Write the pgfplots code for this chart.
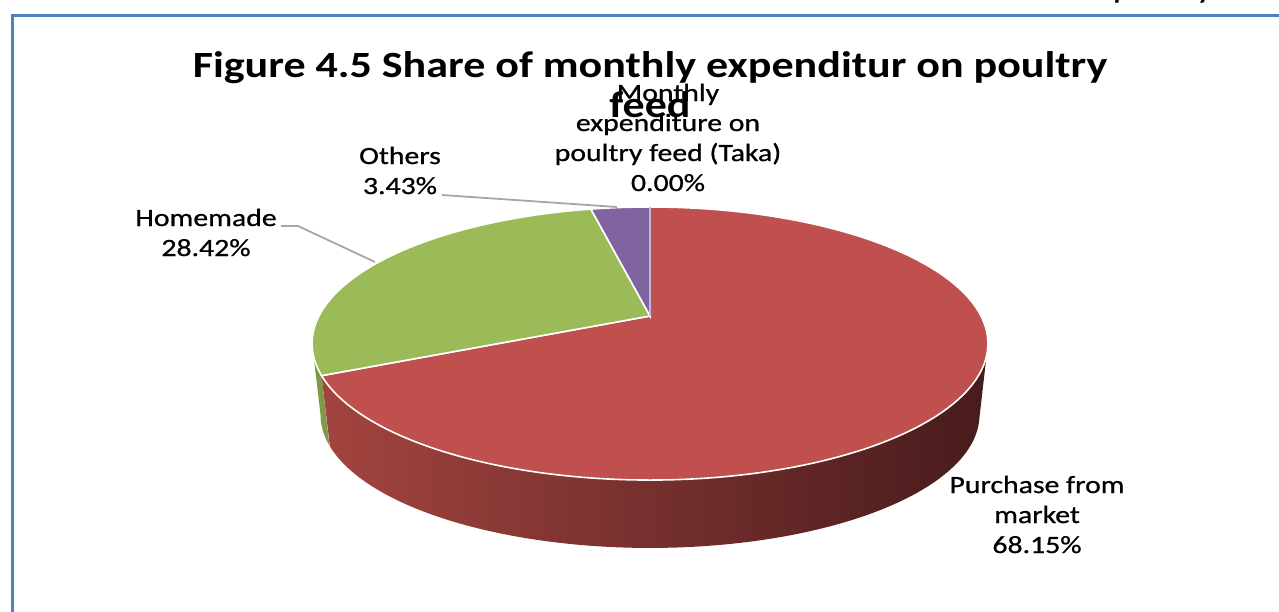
\documentclass[border=0pt]{standalone}
\usepackage{fontspec}
\setmainfont{Carlito}
\newfontfamily\lblfont{Carlito}[FakeStretch=1.2,FakeBold=0.8]
\newfontfamily\ttlfont{Carlito}[FakeStretch=1.19]
\usepackage{pgfplots}
\usepackage{pgfplotstable}
\pgfplotsset{compat=1.18}
\definecolor{PieRed}{HTML}{C0504D}
\definecolor{PieGreen}{HTML}{9BBB59}
\definecolor{PiePurple}{HTML}{8064A2}
\definecolor{WallGreen}{HTML}{7E9A46}
\definecolor{WallL}{HTML}{A3443F}
\definecolor{WallM}{HTML}{6A2A29}
\definecolor{WallR}{HTML}{471B1C}
\definecolor{ZeroLine}{HTML}{C4B8D6}
\definecolor{LeadGray}{HTML}{A6A6A6}
\definecolor{FrameBlue}{HTML}{4F81BD}

% shares in percent, in Excel's clockwise order from 12 o'clock
\pgfplotstableread{
label value
Monthly 0.00
Purchase 68.15
Homemade 28.42
Others 3.43
}\piedata

\begin{document}
\begin{tikzpicture}
\pgfplotstablegetelem{1}{value}\of\piedata\pgfmathsetmacro\vR{\pgfplotsretval}
\pgfplotstablegetelem{2}{value}\of\piedata\pgfmathsetmacro\vG{\pgfplotsretval}
\pgfplotstablegetelem{3}{value}\of\piedata\pgfmathsetmacro\vO{\pgfplotsretval}
\pgfmathsetmacro\aR{90-3.6*\vR}
\pgfmathsetmacro\aG{\aR-3.6*\vG}
\pgfmathsetmacro\aO{\aG-3.6*\vO}
\begin{axis}[
  name=ax,
  scale only axis,width=639.5pt,height=305.5pt,
  xmin=0,xmax=1279,ymin=0,ymax=611,y dir=reverse,
  xtick=\empty,ytick=\empty,
  hide axis,clip=true,clip mode=global,
  declare function={
    pw(\t)=1+0.2015*sin(\t);
    px(\t,\k)=650+\k*331*cos(\t)/pw(\t);
    py(\t,\k,\d)=316+\d-\k*131*sin(\t)/pw(\t);
    wt(\s,\a,\b)=(\s<1.0001) ? (\a+\s*(\b-\a)) : (\b-(\s-1)*(\b-\a));
    wk(\s)=(\s<1.0001) ? 1 : 0.975;
    wd(\s)=(\s<1.0001) ? 0 : 72;
  },
]
% side walls
\addplot[draw=none,fill=WallGreen,domain=0:2,samples=101,variable=\s]
  ({px(wt(\s,-168.37,\aR),wk(\s))},{py(wt(\s,-168.37,\aR),wk(\s),wd(\s))}) -- cycle;
\addplot[draw=none,left color=WallL,middle color=WallM,right color=WallR,domain=0:2,samples=201,variable=\s]
  ({px(wt(\s,\aR,-11.63),wk(\s))},{py(wt(\s,\aR,-11.63),wk(\s),wd(\s))}) -- cycle;
% top face
\addplot[draw=white,line width=0.8pt,fill=PieRed,domain=\aR:90,samples=200,variable=\t]
  ({px(\t,1)},{py(\t,1,0)}) -- (axis cs:650,316) -- cycle;
\addplot[draw=white,line width=0.8pt,fill=PieGreen,domain=\aG:\aR,samples=90,variable=\t]
  ({px(\t,1)},{py(\t,1,0)}) -- (axis cs:650,316) -- cycle;
\addplot[draw=white,line width=0.8pt,fill=PiePurple,domain=\aO:\aG,samples=20,variable=\t]
  ({px(\t,1)},{py(\t,1,0)}) -- (axis cs:650,316) -- cycle;
\addplot[draw=ZeroLine,line width=0.8pt,domain=0:1,samples=2,variable=\s]
  ({650+\s*(px(90,1)-650)},{316+\s*(py(90,1,0)-316)});
% leader lines
\draw[LeadGray,line width=0.9pt] (axis cs:281,226) -- (axis cs:298,226) -- (axis cs:375,262);
\draw[LeadGray,line width=0.9pt] (axis cs:442,195) -- (axis cs:617,207);
% frame and cut header
\draw[FrameBlue,line width=1.5pt] (axis cs:1300,15) -- (axis cs:12.5,15) -- (axis cs:12.5,630);
\node[anchor=base west,font=\lblfont\fontsize{14}{16}\selectfont] at (axis cs:1106,-2) {poultry};
% title
\node[anchor=base,font=\ttlfont\bfseries\fontsize{18.5}{22}\selectfont] at (axis cs:650,77) {Figure 4.5 Share of monthly expenditur on poultry};
\node[anchor=base,font=\ttlfont\bfseries\fontsize{18.5}{22}\selectfont] at (axis cs:650,117) {feed};
% data labels
\tikzset{lbl/.style={anchor=base,font=\lblfont\fontsize{12.4}{14}\selectfont}}
\node[lbl] at (axis cs:668,101) {Monthly};
\node[lbl] at (axis cs:668,131) {expenditure on};
\node[lbl] at (axis cs:668,161) {poultry feed (Taka)};
\node[lbl] at (axis cs:668,191) {0.00\%};
\node[lbl] at (axis cs:400,164) {Others};
\node[lbl] at (axis cs:400,194) {3.43\%};
\node[lbl] at (axis cs:206,226) {Homemade};
\node[lbl] at (axis cs:206,256) {28.42\%};
\node[lbl] at (axis cs:1037,493) {Purchase from};
\node[lbl] at (axis cs:1037,523) {market};
\node[lbl] at (axis cs:1037,553) {68.15\%};
\end{axis}
\pgfresetboundingbox
\path (ax.south west) rectangle (ax.north east);
\end{tikzpicture}%
\end{document}
